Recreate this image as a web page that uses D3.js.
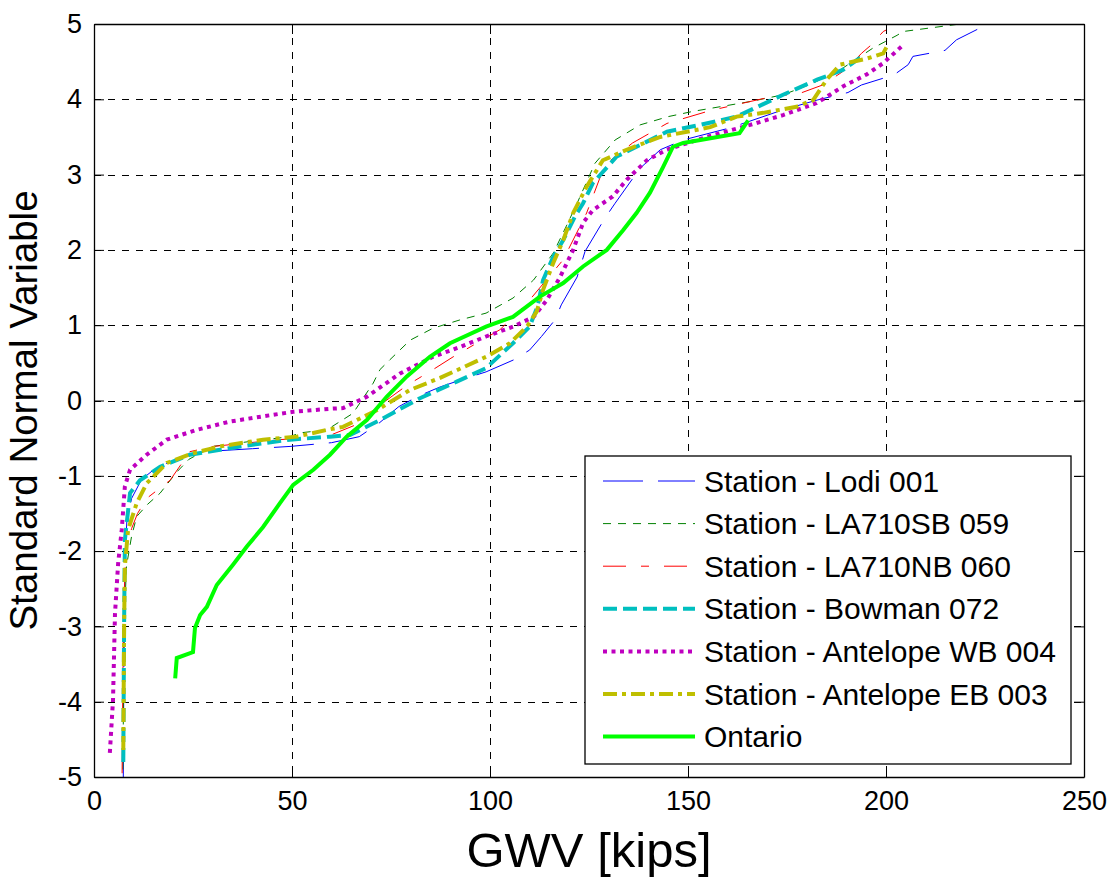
<!DOCTYPE html>
<html>
<head>
<meta charset="utf-8">
<script src="https://cdn.jsdelivr.net/npm/d3@7"></script>
<style>
  body { margin: 0; background: #fff; }
  svg { display: block; font-family: "Liberation Sans", Arial, sans-serif; }
</style>
</head>
<body>
<svg width="1112" height="878"></svg>
<script>
// values, [GWV kips, standard normal variable]
const lodi001 = [[7.4,-5],[7.6,-3],[7.9,-2],[8.3,-1.6],[9.5,-1.3],[12,-1.05],[16,-0.88],[22,-0.76],[27.5,-0.68],[40,-0.64],[49.5,-0.61],[60,-0.56],[67,-0.48],[72,-0.3],[77,-0.08],[82,0.06],[87.4,0.18],[93,0.28],[99,0.38],[106,0.54],[110,0.67],[113,0.85],[116.4,1.07],[118,1.27],[122,1.64],[124,1.98],[129,2.42],[131.6,2.62],[135.8,2.93],[137.4,3.06],[143,3.33],[148.8,3.46],[160.6,3.62],[174,3.86],[182.6,3.99],[190.4,4.09],[193.8,4.19],[199.3,4.28],[202.7,4.35],[205.6,4.46],[206.8,4.57],[214.9,4.65],[217.8,4.79],[225,4.98]];
const la710sb059 = [[7.3,-4.9],[7.6,-3],[8.2,-2.2],[9.5,-1.8],[10.8,-1.54],[13.5,-1.38],[16.7,-1.23],[20.9,-0.95],[24,-0.78],[30,-0.61],[40,-0.54],[49.5,-0.48],[52,-0.43],[58.8,-0.39],[65.4,-0.17],[70.5,0.23],[72.2,0.41],[74.7,0.54],[79.8,0.8],[85.6,0.96],[92.4,1.07],[99,1.16],[105.8,1.36],[111,1.6],[116,1.96],[119.4,2.33],[122,2.62],[126.5,3.15],[131.6,3.46],[137.9,3.66],[145,3.77],[151.3,3.84],[165.7,3.97],[174,4.06],[181,4.2],[188.4,4.39],[196.7,4.68],[202.8,4.85],[204.3,4.9],[218.7,5.0]];
const la710nb060 = [[7.1,-4.95],[7.4,-3],[8,-2],[9.5,-1.7],[11,-1.5],[13.3,-1.3],[19.2,-1.06],[24.2,-0.68],[30,-0.61],[47,-0.52],[52,-0.5],[58.8,-0.48],[67.2,-0.3],[73,-0.03],[79,0.2],[85.6,0.41],[90.7,0.58],[102.5,0.94],[109.3,1.29],[118.5,1.87],[124.4,2.49],[129,3.13],[136,3.42],[144.7,3.68],[155.6,3.85],[170.7,4.03],[178.3,4.08],[184,4.19],[190,4.4],[193.8,4.61],[196,4.71],[199.3,4.9],[203,5.0]];
const bowman072 = [[7.4,-4.8],[7.6,-3],[7.8,-1.85],[9.1,-1.23],[11.6,-1.06],[16.7,-0.88],[24.2,-0.72],[36.9,-0.61],[49.5,-0.52],[59.6,-0.48],[64.6,-0.46],[72.2,-0.26],[82.3,0.03],[91.6,0.25],[99,0.43],[105.8,0.76],[110,0.98],[112,1.25],[113.4,1.6],[116,1.91],[118.5,2.13],[121.5,2.45],[123.5,2.62],[126,2.89],[132,3.24],[137,3.37],[144.7,3.57],[153,3.66],[162.3,3.77],[174,4.06],[182.6,4.26],[189.1,4.39],[193.4,4.55]];
const antelopeWB004 = [[4.0,-4.68],[4.8,-3.98],[5.3,-2.83],[6.1,-2.16],[7,-1.72],[7.8,-1.14],[9.1,-0.92],[13.3,-0.72],[18.4,-0.52],[25.9,-0.39],[34.3,-0.28],[42.7,-0.21],[50.3,-0.15],[59.6,-0.11],[62.9,-0.1],[68.9,0.05],[77.3,0.36],[85.6,0.58],[92.4,0.71],[99,0.85],[105.8,0.98],[111,1.11],[114.3,1.33],[117.7,1.64],[121,2.0],[123.5,2.36],[126,2.53],[131,2.71],[134.5,2.93],[139.6,3.19],[144.6,3.33],[154.7,3.5],[165.7,3.66],[174,3.79],[182.5,3.95],[189.1,4.17],[195.1,4.33],[199.3,4.48],[204.3,4.72]];
const antelopeEB003 = [[7.4,-4.64],[7.6,-3],[7.8,-2.2],[8.6,-1.72],[10.8,-1.36],[13.3,-1.1],[18.4,-0.83],[25,-0.7],[31.8,-0.61],[42.7,-0.52],[51.2,-0.48],[58.8,-0.39],[62.9,-0.35],[71.4,-0.13],[79.8,0.14],[87.4,0.3],[99,0.58],[105,0.76],[109.3,0.98],[111.8,1.18],[113.4,1.47],[116,1.83],[118.5,2.13],[121,2.49],[124.4,2.84],[128.5,3.19],[134.5,3.33],[143,3.5],[155.6,3.63],[162.3,3.77],[169,3.82],[177.4,3.9],[181.6,3.99],[185,4.26],[188.4,4.46],[195.1,4.54],[199.3,4.61],[200.2,4.7]];
const ontario = [[20.5,-3.69],[20.9,-3.42],[25,-3.34],[25.5,-3.02],[26.8,-2.85],[28.5,-2.74],[31,-2.45],[35.1,-2.18],[38.6,-1.94],[42.7,-1.68],[47,-1.36],[50.3,-1.12],[55.4,-0.92],[59.6,-0.72],[63.8,-0.48],[68.9,-0.26],[73.9,0.05],[79,0.32],[84.8,0.58],[89.9,0.76],[99,0.98],[105.8,1.11],[112.6,1.38],[118.5,1.56],[123.5,1.78],[129.5,2.0],[133.6,2.26],[137,2.49],[140.4,2.76],[143.7,3.1],[146.2,3.37],[148.8,3.42],[163,3.55],[165.2,3.72]];

const seriesNames = ["Station - Lodi 001", "Station - LA710SB 059", "Station - LA710NB 060", "Station - Bowman 072", "Station - Antelope WB 004", "Station - Antelope EB 003", "Ontario"];
const seriesData = [lodi001, la710sb059, la710nb060, bowman072, antelopeWB004, antelopeEB003, ontario];
const xTicks = [0, 50, 100, 150, 200, 250];
const yTicks = [-5, -4, -3, -2, -1, 0, 1, 2, 3, 4, 5];

// line look per series
const styles = [
    {color: "#0000ff", width: 1, dash: "40,15"},
    {color: "#008000", width: 1, dash: "8,7"},
    {color: "#ff0000", width: 1, dash: "23,15,8,15"},
    {color: "#00bfbf", width: 4, dash: "14,6"},
    {color: "#bf00bf", width: 4, dash: "4,4.5"},
    {color: "#bfbf00", width: 4, dash: "14,5,4,5"},
    {color: "#00ff00", width: 4, dash: null}
];

function draw() {
    let svg = d3.select("svg");
    let left = 94, right = 1084, top = 24, bottom = 777;

    let x = d3.scaleLinear().domain([0, 250]).range([left, right]);
    let y = d3.scaleLinear().domain([-5, 5]).range([bottom, top]);

    svg.append("defs").append("clipPath").attr("id", "plotclip")
        .append("rect")
        .attr("x", left).attr("y", top)
        .attr("width", right - left).attr("height", bottom - top);

    // grid
    let grid = svg.append("g")
        .attr("stroke", "#000")
        .attr("stroke-width", 1)
        .attr("shape-rendering", "crispEdges")
        .attr("stroke-dasharray", "7,7");
    grid.selectAll(".vgrid")
        .data(xTicks.slice(1, -1))
        .enter()
        .append("line")
        .attr("x1", d => Math.round(x(d)) + 0.5).attr("x2", d => Math.round(x(d)) + 0.5)
        .attr("y1", top).attr("y2", bottom);
    grid.selectAll(".hgrid")
        .data(yTicks.slice(1, -1))
        .enter()
        .append("line")
        .attr("x1", left).attr("x2", right)
        .attr("y1", d => Math.round(y(d)) + 0.5).attr("y2", d => Math.round(y(d)) + 0.5);

    // curves
    let line = d3.line().x(d => x(d[0])).y(d => y(d[1]));
    svg.append("g")
        .attr("clip-path", "url(#plotclip)")
        .selectAll(".curve")
        .data(seriesData)
        .enter()
        .append("path")
        .attr("class", "curve")
        .attr("fill", "none")
        .attr("d", line)
        .attr("stroke", (d, i) => styles[i].color)
        .attr("stroke-width", (d, i) => styles[i].width)
        .attr("stroke-dasharray", (d, i) => styles[i].dash);

    // axes, matlab style: ticks pointing inwards on all four sides
    let tickLen = 10;
    let fmt = d => String(d);
    let axes = svg.append("g");
    axes.append("g")
        .attr("transform", `translate(0,${bottom})`)
        .call(d3.axisBottom(x).tickValues(xTicks).tickSizeInner(-tickLen).tickSizeOuter(0).tickPadding(14).tickFormat(fmt));
    axes.append("g")
        .attr("transform", `translate(0,${top})`)
        .call(d3.axisTop(x).tickValues(xTicks).tickSizeInner(-tickLen).tickSizeOuter(0).tickFormat(""));
    axes.append("g")
        .attr("transform", `translate(${left},0)`)
        .call(d3.axisLeft(y).tickValues(yTicks).tickSizeInner(-tickLen).tickSizeOuter(0).tickPadding(12).tickFormat(fmt));
    axes.append("g")
        .attr("transform", `translate(${right},0)`)
        .call(d3.axisRight(y).tickValues(yTicks).tickSizeInner(-tickLen).tickSizeOuter(0).tickFormat(""));
    axes.selectAll(".domain").attr("stroke", "#000").attr("stroke-width", 1.3);
    axes.selectAll(".tick line").attr("stroke", "#000");
    axes.selectAll(".tick text")
        .attr("fill", "#000")
        .style("font-size", "27px")
        .style("font-family", "'Liberation Sans', Arial, sans-serif");

    // axis titles
    svg.append("text")
        .attr("x", (left + right) / 2)
        .attr("y", 867)
        .attr("text-anchor", "middle")
        .style("font-size", "49px")
        .text("GWV [kips]");
    svg.append("text")
        .attr("transform", `translate(37,${(top + bottom) / 2 + 10}) rotate(-90)`)
        .attr("text-anchor", "middle")
        .style("font-size", "38.5px")
        .text("Standard Normal Variable");

    // legend
    let legend = svg.append("g");
    legend.append("rect")
        .attr("x", 585).attr("y", 456)
        .attr("width", 486).attr("height", 308)
        .attr("fill", "#fff")
        .attr("stroke", "#000")
        .attr("stroke-width", 1.3);
    let rows = legend.selectAll(".entry")
        .data(seriesNames)
        .enter()
        .append("g")
        .attr("class", "entry")
        .attr("transform", (d, i) => `translate(0,${481 + i * 42.6})`);
    rows.append("line")
        .attr("x1", 603).attr("x2", 695)
        .attr("y1", 0).attr("y2", 0)
        .attr("stroke", (d, i) => styles[i].color)
        .attr("stroke-width", (d, i) => styles[i].width)
        .attr("stroke-dasharray", (d, i) => styles[i].dash);
    rows.append("text")
        .attr("x", 704)
        .attr("y", 10.5)
        .style("font-size", "30px")
        .text(d => d);
}

draw();
</script>
</body>
</html>
